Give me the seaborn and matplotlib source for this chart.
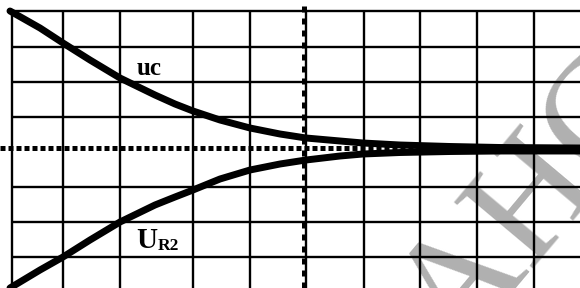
import matplotlib
matplotlib.use("Agg")
import matplotlib.pyplot as plt
import seaborn as sns
import pandas as pd

# ---- data (pixel-like screen units of the oscilloscope grid) ----
grid_x = [12, 63, 120, 193, 250, 306, 364, 420, 477, 534]
grid_y = [11, 47, 82, 117, 187, 222, 257]
axis_x = 304
axis_y = 148

uc_x = [10, 40, 63, 90, 120, 155, 175, 193, 220, 250, 280, 306, 340, 363, 400, 450, 500, 580]
uc_y = [11, 28, 43, 60, 78, 95, 104, 111, 120, 128, 134, 138, 141, 143, 145, 146.5, 147.5, 148]

ur_x = [10, 40, 63, 90, 120, 155, 175, 193, 220, 250, 280, 306, 340, 363, 400, 450, 500, 580]
ur_y = [288, 270, 257, 240, 222, 205, 197, 190, 179, 170, 164, 160, 156, 154, 152.5, 151.5, 151, 151]

labels = ["uc", "U", "R2"]
watermark = "АНС"

sns.set_theme(style="white")
plt.rcParams["font.family"] = ["Liberation Serif", "DejaVu Serif"]

fig = plt.figure(figsize=(5.8, 2.88), dpi=100)
ax = fig.add_axes([0, 0, 1, 1])

# watermark
ax.text(563, 230, watermark, rotation=50, fontsize=112, color="#b0b0b0",
        ha="center", va="baseline", rotation_mode="anchor", zorder=0)

# grid
ax.vlines(grid_x, 11, 288, color="black", lw=1.7, zorder=1)
ax.hlines(grid_y, 12, 580, color="black", lw=1.7, zorder=1)

# dotted axes
ax.axhline(axis_y, color="black", lw=3.6, ls=(0, (1.0, 0.6)), zorder=2)
ax.axvline(axis_x, color="black", lw=3.6, ls=(0, (1.2, 1.2)), zorder=2)

df_uc = pd.DataFrame({"x": uc_x, "y": uc_y})
df_ur = pd.DataFrame({"x": ur_x, "y": ur_y})
sns.lineplot(data=df_uc, x="x", y="y", ax=ax, color="black", lw=5,
             estimator=None, sort=False, zorder=3)
sns.lineplot(data=df_ur, x="x", y="y", ax=ax, color="black", lw=5,
             estimator=None, sort=False, zorder=3)
ax.set_xlim(0, 580)
ax.set_ylim(288, 0)
ax.axis("off")

ax.text(137, 75, labels[0], fontsize=18, fontweight="bold", ha="left",
        va="baseline", color="black", zorder=4)
t = ax.text(136, 248, labels[1], fontsize=21, fontweight="bold", ha="left",
            va="baseline", color="black", zorder=4)
ax.annotate(labels[2], xy=(1, 0), xycoords=t, xytext=(0.5, 0),
            textcoords="offset points", fontsize=12.5, fontweight="bold",
            ha="left", va="bottom", color="black", zorder=4)

fig.savefig("out.png", dpi=100)
